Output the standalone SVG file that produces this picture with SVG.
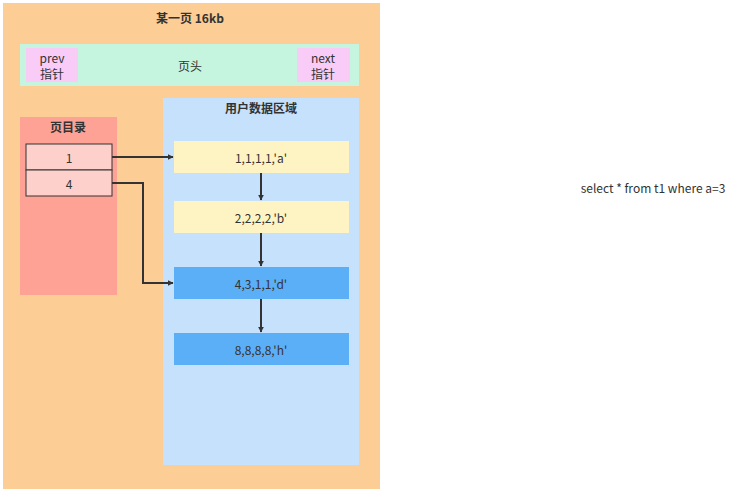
<svg xmlns="http://www.w3.org/2000/svg" width="750" height="500" viewBox="0 0 750 500">
<style>
text{font-family:"Noto Sans CJK SC","Liberation Sans",sans-serif;font-size:12px;fill:#333;text-anchor:middle;dominant-baseline:central}
.b{font-weight:bold}
.c{stroke:#333;stroke-width:2;fill:none;marker-end:url(#a)}
</style>
<defs><marker id="a" viewBox="0 0 10 10" refX="9" refY="5" markerWidth="6" markerHeight="6" orient="auto" markerUnits="userSpaceOnUse"><path d="M0,0L10,5L0,10z" fill="#333"/></marker></defs>
<rect width="750" height="500" fill="#fff"/>
<g id="page"><rect x="3" y="3" width="377" height="486" fill="#fccd94"/><text class="b" x="190" y="17">某一页 16kb</text></g>
<g id="header"><rect x="20" y="44" width="339" height="42" fill="#c5f4df"/><text x="190" y="65">页头</text></g>
<g id="prev"><rect x="26" y="48" width="52" height="34" fill="#f9ccf7"/><text x="52" y="57">prev</text><text x="52" y="73">指针</text></g>
<g id="next"><rect x="297" y="48" width="53" height="34" fill="#f9ccf7"/><text x="323" y="57">next</text><text x="323" y="73">指针</text></g>
<g id="userdata"><rect x="163" y="98" width="196" height="367" fill="#c6e1fb"/><text class="b" x="261" y="107">用户数据区域</text></g>
<g id="dir"><rect x="20" y="117" width="97" height="178" fill="#fda294"/><text class="b" x="68" y="126">页目录</text></g>
<g id="slot1"><rect x="26" y="144" width="86" height="26" fill="#fdd0cb" stroke="#333"/><text x="69" y="157">1</text></g>
<g id="slot4"><rect x="26" y="170" width="86" height="26" fill="#fdd0cb" stroke="#333"/><text x="69" y="183">4</text></g>
<g id="r1"><rect x="174" y="141" width="175" height="32" fill="#fef3c3"/><text x="261" y="157">1,1,1,1,'a'</text></g>
<g id="r2"><rect x="174" y="201" width="175" height="32" fill="#fef3c3"/><text x="261" y="217">2,2,2,2,'b'</text></g>
<g id="r3"><rect x="174" y="267" width="175" height="32" fill="#5baff7"/><text x="261" y="283">4,3,1,1,'d'</text></g>
<g id="r4"><rect x="174" y="333" width="175" height="32" fill="#5baff7"/><text x="261" y="349">8,8,8,8,'h'</text></g>
<g id="connectors">
<path class="c" d="M112,157H173"/>
<path class="c" d="M112,183H143V283H173"/>
<path class="c" d="M261,173V200"/>
<path class="c" d="M261,233V266"/>
<path class="c" d="M261,299V332"/>
</g>
<text x="653" y="187">select * from t1 where a=3</text>
</svg>
